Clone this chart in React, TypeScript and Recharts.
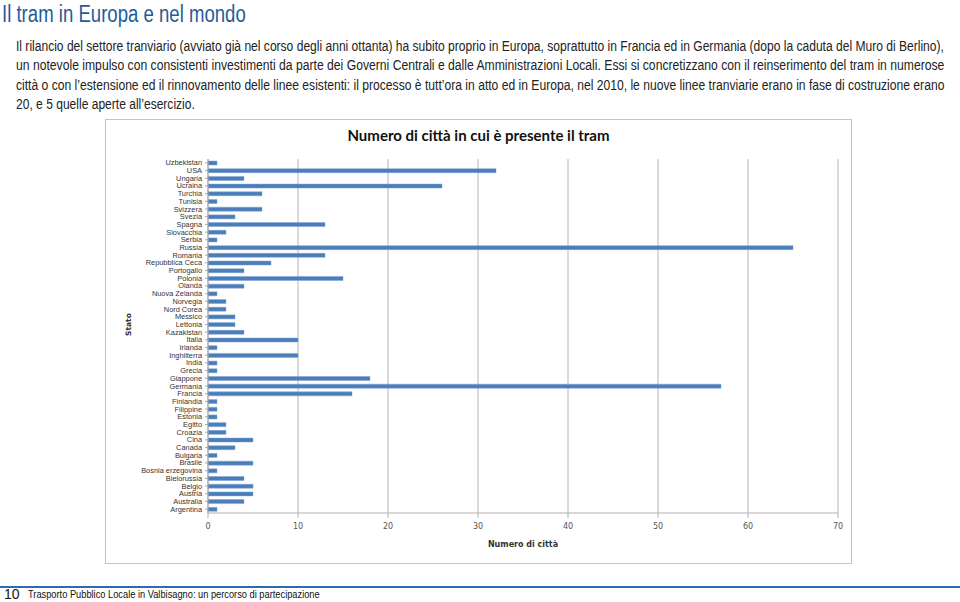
import { useLayoutEffect, useRef, useState } from "react";
import { BarChart, Bar, XAxis, YAxis, CartesianGrid } from "recharts";

const countries = [
  "Uzbekistan", "USA", "Ungaria", "Ucraina", "Turchia", "Tunisia", "Svizzera",
  "Svezia", "Spagna", "Slovacchia", "Serbia", "Russia", "Romania",
  "Repubblica Ceca", "Portogallo", "Polonia", "Olanda", "Nuova Zelanda",
  "Norvegia", "Nord Corea", "Messico", "Lettonia", "Kazakistan", "Italia",
  "Irlanda", "Inghilterra", "India", "Grecia", "Giappone", "Germania",
  "Francia", "Finlandia", "Filippine", "Estonia", "Egitto", "Croazia", "Cina",
  "Canada", "Bulgaria", "Brasile", "Bosnia erzegovina", "Bielorussia",
  "Belgio", "Austria", "Australia", "Argentina",
];

const cities = [
  1, 32, 4, 26, 6, 1, 6, 3, 13, 2, 1, 65, 13, 7, 4, 15, 4, 1, 2, 2, 3, 3, 4,
  10, 1, 10, 1, 1, 18, 57, 16, 1, 1, 1, 2, 2, 5, 3, 1, 5, 1, 4, 5, 5, 4, 1,
];

const xTicks = [0, 10, 20, 30, 40, 50, 60, 70];

const paragraph = [
  "Il rilancio del settore tranviario (avviato già nel corso degli anni ottanta) ha subito proprio in Europa, soprattutto in Francia ed in Germania (dopo la caduta del Muro di Berlino),",
  "un notevole impulso con consistenti investimenti da parte dei Governi Centrali e dalle Amministrazioni Locali. Essi si concretizzano con il reinserimento del tram in numerose",
  "città o con l’estensione ed il rinnovamento delle linee esistenti: il processo è tutt’ora in atto ed in Europa, nel 2010, le nuove linee tranviarie erano in fase di costruzione erano",
  "20, e 5 quelle aperte all’esercizio.",
];
const lineWidths = [928, 928, 928, 179];

const data = countries.map((name, i) => ({ name, value: cities[i] }));

// squeeze a single line of text to a given width (the source uses a condensed face)
function Fit({ text, width, style }: { text: string; width: number; style: any }) {
  const ref = useRef<HTMLSpanElement>(null);
  const [s, setS] = useState(1);
  useLayoutEffect(() => {
    if (ref.current) setS(width / ref.current.offsetWidth);
  }, [text, width]);
  return (
    <span
      ref={ref}
      style={{
        position: "absolute",
        display: "inline-block",
        whiteSpace: "nowrap",
        transform: `scaleX(${s})`,
        transformOrigin: "left center",
        ...style,
      }}
    >
      {text}
    </span>
  );
}

function CountryTick(props: any) {
  const { x, y, payload } = props;
  return (
    <text
      x={x}
      y={y}
      dy={2.5}
      textAnchor="end"
      fontSize={7.4}
      fill="#333"
      fontFamily="Liberation Sans"
    >
      {payload.value}
    </text>
  );
}

export default function App() {
  return (
    <div
      style={{
        position: "absolute",
        left: 0,
        top: 0,
        width: 960,
        height: 602,
        background: "#fff",
        overflow: "hidden",
        fontFamily: "Liberation Sans, sans-serif",
      }}
    >
      <Fit
        text="Il tram in Europa e nel mondo"
        width={244}
        style={{ left: 2, top: 1, fontSize: 23, color: "#1f5c99", lineHeight: "26px" }}
      />

      {paragraph.map((line, i) => (
        <Fit
          key={i}
          text={line}
          width={lineWidths[i]}
          style={{
            left: 16,
            top: 37 + i * 19.3,
            fontSize: 14,
            lineHeight: "19px",
            color: "#222",
          }}
        />
      ))}

      <div
        style={{
          position: "absolute",
          left: 105,
          top: 119,
          width: 745,
          height: 443,
          border: "1px solid #c4c4c4",
        }}
      >
        <div
          style={{
            position: "absolute",
            left: 0,
            width: 745,
            top: 6,
            textAlign: "center",
            fontFamily: "Lato, sans-serif",
            fontWeight: 700,
            fontSize: 15,
            color: "#111",
          }}
        >
          Numero di città in cui è presente il tram
        </div>
        <div style={{ position: "absolute", left: -1, top: -1 }}>
          <BarChart
            width={746}
            height={444}
            data={data}
            layout="vertical"
            margin={{ top: 40, right: 13, bottom: 10, left: 5 }}
            barCategoryGap={2}
          >
            <CartesianGrid horizontal={false} stroke="#b4b4b4" />
            <XAxis
              type="number"
              domain={[0, 70]}
              ticks={xTicks}
              height={40}
              stroke="#b0b0b0"
              tickSize={5}
              tickMargin={5}
              tick={{ fontSize: 8, fill: "#555", fontFamily: "DejaVu Sans" }}
              label={{
                value: "Numero di città",
                position: "insideBottom",
                offset: 6,
                style: {
                  fontSize: 8,
                  fontWeight: 700,
                  fill: "#333",
                  fontFamily: "DejaVu Sans",
                },
              }}
            />
            <YAxis
              type="category"
              dataKey="name"
              width={98}
              interval={0}
              stroke="#a8a8a8"
              tickSize={3}
              tickMargin={3}
              tick={<CountryTick />}
              label={{
                value: "Stato",
                angle: -90,
                position: "insideLeft",
                offset: 18,
                style: {
                  fontSize: 7.5,
                  fontWeight: 700,
                  fill: "#333",
                  fontFamily: "DejaVu Sans",
                },
              }}
            />
            <Bar
              dataKey="value"
              fill="#4a7ebb"
              stroke="#7ea3d3"
              strokeWidth={0.5}
              barSize={4}
              isAnimationActive={false}
            />
          </BarChart>
        </div>
      </div>

      <div
        style={{
          position: "absolute",
          left: 0,
          top: 586,
          width: 960,
          height: 2,
          background: "#2b6cb0",
        }}
      />
      <div
        style={{
          position: "absolute",
          left: 4,
          top: 587,
          fontSize: 14,
          lineHeight: "14px",
          color: "#111",
        }}
      >
        10
      </div>
      <Fit
        text="Trasporto Pubblico Locale in Valbisagno: un percorso di partecipazione"
        width={292}
        style={{ left: 28, top: 589, fontSize: 10, lineHeight: "11px", color: "#111" }}
      />
    </div>
  );
}
